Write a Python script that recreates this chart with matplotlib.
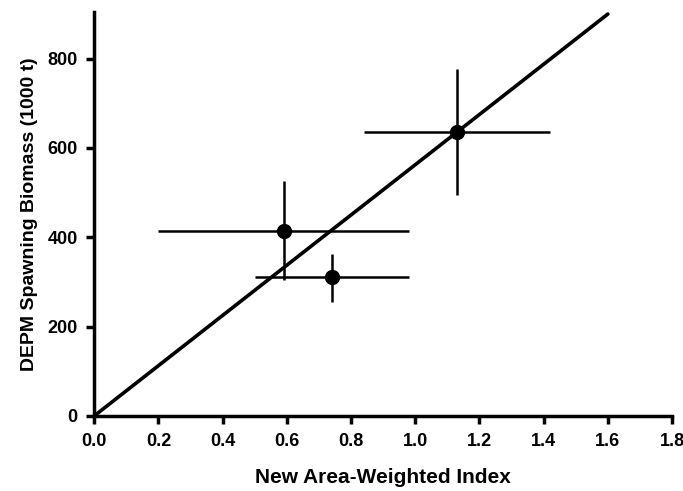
import matplotlib
matplotlib.use("Agg")
import matplotlib.pyplot as plt

# observed points with error ranges
index_x = [0.59, 0.74, 1.13]
biomass_y = [415, 310, 636]
x_low = [0.20, 0.50, 0.84]
x_high = [0.98, 0.98, 1.42]
y_low = [305, 254, 494]
y_high = [525, 363, 777]

# fit line
fit_x = [0.0, 1.6]
fit_y = [0.0, 900.0]

plt.rcParams['font.family'] = ['Liberation Sans', 'DejaVu Sans']
plt.rcParams['font.weight'] = 'bold'

fig = plt.figure(figsize=(6.83, 4.91), dpi=100)
ax = fig.add_axes([0.138, 0.153, 0.846, 0.823])

xerr = [[x - lo for x, lo in zip(index_x, x_low)], [hi - x for x, hi in zip(index_x, x_high)]]
yerr = [[y - lo for y, lo in zip(biomass_y, y_low)], [hi - y for y, hi in zip(biomass_y, y_high)]]

ax.plot(fit_x, fit_y, color='black', lw=2.6, solid_capstyle='round', zorder=2)
ax.errorbar(index_x, biomass_y, xerr=xerr, yerr=yerr, fmt='o', color='black',
            ms=10, elinewidth=1.8, capsize=0, zorder=3)

ax.set_xlim(0, 1.8)
ax.set_ylim(0, 905)
ax.set_xticks([0.0, 0.2, 0.4, 0.6, 0.8, 1.0, 1.2, 1.4, 1.6, 1.8])
ax.set_xticklabels(['0.0', '0.2', '0.4', '0.6', '0.8', '1.0', '1.2', '1.4', '1.6', '1.8'])
ax.set_yticks([0, 200, 400, 600, 800])

for s in ['top', 'right']:
    ax.spines[s].set_visible(False)
for s in ['left', 'bottom']:
    ax.spines[s].set_linewidth(2.5)
ax.tick_params(width=2.5, length=6, labelsize=13, pad=6)
for lab in ax.get_xticklabels() + ax.get_yticklabels():
    lab.set_fontweight('bold')

ax.set_xlabel('New Area-Weighted Index', fontsize=15, fontweight='bold', labelpad=13)
ax.set_ylabel('DEPM Spawning Biomass (1000 t)', fontsize=14, fontweight='bold', labelpad=7)

fig.savefig('out.png', dpi=100)
